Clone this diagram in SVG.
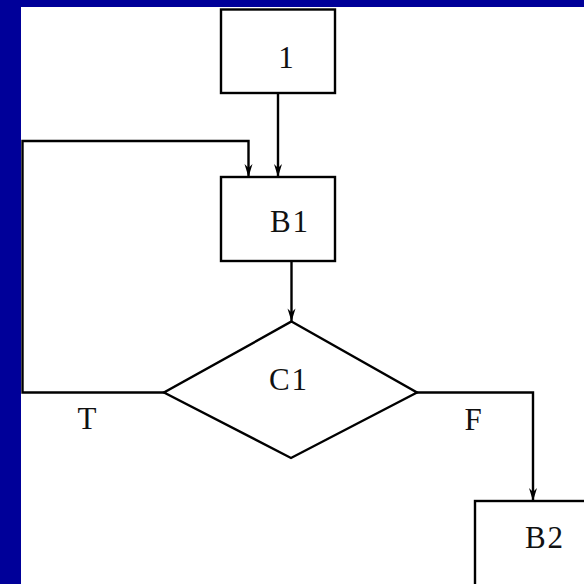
<svg xmlns="http://www.w3.org/2000/svg" width="584" height="584" viewBox="0 0 584 584">
  <defs>
    <marker id="arr" markerUnits="userSpaceOnUse" markerWidth="16" markerHeight="12" refX="0" refY="0" viewBox="-14 -6 16 12" orient="auto" overflow="visible">
      <path d="M0,0 L-13,-4 L-9,0 L-13,4 Z" fill="#000"/>
    </marker>
    <style>
      .box { fill: #fff; stroke: #000; stroke-width: 2.4; }
      .edge { fill: none; stroke: #000; stroke-width: 2.4; }
      .lbl { font-family: "Liberation Serif", "DejaVu Serif", serif; font-size: 31px; fill: #111; text-anchor: middle; }
      .wide { letter-spacing: 2px; }
    </style>
  </defs>
  <rect x="0" y="0" width="584" height="584" fill="#000099"/>
  <rect x="21" y="7" width="563" height="577" fill="#ffffff"/>

  <g id="connectors">
    <path class="edge" d="M278 93 V177" marker-end="url(#arr)"/>
    <path class="edge" d="M291.5 261 V321.5" marker-end="url(#arr)"/>
    <path class="edge" d="M164 392.5 H22.5 V141 H248.5 V177" marker-end="url(#arr)"/>
    <path class="edge" d="M417 392.5 H533 V501" marker-end="url(#arr)"/>
  </g>

  <g id="node-1">
    <rect class="box" x="221" y="9.5" width="114" height="83.5"/>
    <text class="lbl" x="286" y="68">1</text>
  </g>
  <g id="node-B1">
    <rect class="box" x="221" y="177" width="114" height="84"/>
    <text class="lbl wide" x="290" y="232">B1</text>
  </g>
  <g id="node-C1">
    <polygon class="box" points="291.5,321.5 417,392.5 291,458 164,392.5"/>
    <text class="lbl wide" x="289" y="390">C1</text>
  </g>
  <g id="label-T">
    <text class="lbl" x="87" y="429">T</text>
  </g>
  <g id="label-F">
    <text class="lbl" x="473" y="430">F</text>
  </g>
  <g id="node-B2">
    <rect class="box" x="475" y="501" width="140" height="100"/>
    <text class="lbl wide" x="545" y="548">B2</text>
  </g>
</svg>
